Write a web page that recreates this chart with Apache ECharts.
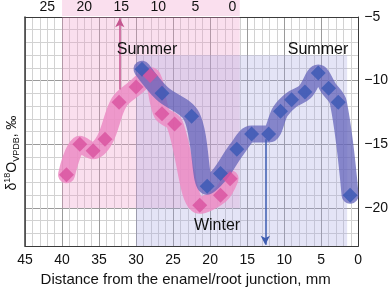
<!DOCTYPE html>
<html>
<head>
<meta charset="utf-8">
<script src="https://cdn.jsdelivr.net/npm/echarts@6/dist/echarts.min.js"></script>
<style>html, body { margin: 0; padding: 0; background: #fff } #chart { width: 391px; height: 292px }</style>
</head>
<body>
<div id="chart"></div>
<script>
// pink profile (first tooth) - distance mm, d18O permil
var pinkDist = [39.4, 37.6, 35.8, 34.2, 32.3, 30.0, 28.1, 26.5, 24.8, 21.4, 18.6, 17.3]
var pinkD18O = [-17.4, -15.0, -15.5, -14.6, -11.7, -10.5, -9.6, -12.6, -13.4, -19.8, -19.0, -17.7]
// blue profile (second tooth)
var blueDist = [29.2, 26.5, 22.5, 20.4, 18.6, 16.4, 14.4, 12.1, 10.5, 9.0, 7.2, 5.4, 4.0, 2.7, 1.1]
var blueD18O = [-9.1, -11.0, -12.8, -18.3, -17.3, -15.4, -14.2, -14.2, -12.4, -11.5, -10.9, -9.4, -10.6, -11.7, -19.0]
var bottomTicks = [45, 40, 35, 30, 25, 20, 15, 10, 5, 0]
var topTicks = [25, 20, 15, 10, 5, 0]
var yTicks = [-5, -10, -15, -20]
var topOffset = 17 // top scale zero sits at 17 mm on the bottom scale

var FONT = "Liberation Sans", minor = "#d2d2d2", major = "#9a9a9a", frame = "#3a3a3a"
function pairs(xs, ys) { return xs.map(function(x, i) { return [x, ys[i]] }) }
function minus(v) { return String(v).replace("-", "\u2212") }

var chart = echarts.init(document.getElementById("chart"))
var option = {
	animation: false,
	grid: {left: 25, right: 32, top: 16, bottom: 42},
	xAxis: [
		{type: "value", position: "bottom", inverse: true, min: 0, max: 45, interval: 1,
			axisLine: {onZero: false, lineStyle: {color: frame, width: 1.2}}, axisTick: {show: false},
			axisLabel: {color: "#111", fontFamily: FONT, fontSize: 14, margin: 7, formatter: function(v) { return bottomTicks.indexOf(v) > -1 ? v : "" }},
			splitLine: {show: true, lineStyle: {color: [major, minor, minor, minor, minor], width: 1}},
			name: "Distance from the enamel/root junction, mm", nameLocation: "middle", nameGap: 25,
			nameTextStyle: {color: "#111", fontFamily: FONT, fontSize: 15, padding: [0, 12, 0, 0]}},
		{type: "value", position: "top", inverse: true, min: -topOffset, max: 45 - topOffset, interval: 1,
			axisLine: {onZero: false, lineStyle: {color: frame, width: 1}}, axisTick: {show: false}, splitLine: {show: false},
			axisLabel: {color: "#111", fontFamily: FONT, fontSize: 14, margin: 3, formatter: function(v) { return topTicks.indexOf(v) > -1 ? v : "" }}},
	],
	yAxis: [
		{type: "value", position: "right", min: -23, max: -5, interval: 1,
			axisLine: {onZero: false, lineStyle: {color: frame, width: 1}}, axisTick: {show: false},
			axisLabel: {color: "#111", fontFamily: FONT, fontSize: 14, margin: 6, formatter: function(v) { return yTicks.indexOf(v) > -1 ? minus(v) : "" }},
			splitLine: {show: true, lineStyle: {color: [minor, minor, minor, major, minor], width: 1}}},
		{type: "value", position: "left", min: -23, max: -5, interval: 1,
			axisLine: {show: true, onZero: false, lineStyle: {color: frame, width: 1.5}}, axisTick: {show: false}, axisLabel: {show: false}, splitLine: {show: false}},
	],
	series: [
		{type: "line", data: [], z: 1, silent: true, markArea: {silent: true, data: [
			[{xAxis: 40, yAxis: -5, itemStyle: {color: "rgba(240,150,200,0.3)"}}, {xAxis: 16, yAxis: -20}],
			[{xAxis: 30, yAxis: -8, itemStyle: {color: "rgba(165,165,225,0.3)"}}, {xAxis: 1.5, yAxis: -23}],
		]}},
		{name: "pink band", type: "line", z: 2, smooth: 0.35, symbol: "none", data: pairs(pinkDist, pinkD18O),
			lineStyle: {color: "rgba(236,140,196,0.85)", width: 17, cap: "round", join: "round"}},
		{name: "blue band", type: "line", z: 3, smooth: 0.35, symbol: "none", data: pairs(blueDist, blueD18O),
			lineStyle: {color: "rgba(95,95,185,0.72)", width: 17, cap: "round", join: "round"}},
		{name: "blue", type: "scatter", z: 4, symbol: "diamond", symbolSize: 15, data: pairs(blueDist, blueD18O), itemStyle: {color: "#3a58b4"}},
		{name: "pink", type: "scatter", z: 5, symbol: "diamond", symbolSize: 15, data: pairs(pinkDist, pinkD18O), itemStyle: {color: "#d9519f"}},
		{type: "line", data: [], z: 6, silent: true, markLine: {silent: true, symbol: ["none", "arrow"], symbolSize: [7, 9], label: {show: false}, data: [
			[{coord: [32.2, -10.7], lineStyle: {color: "#c4558f", width: 1.5, type: "solid"}}, {coord: [32.2, -5.1]}],
			[{coord: [12.55, -14.6], lineStyle: {color: "#3d5cb0", width: 1.5, type: "solid"}}, {coord: [12.55, -22.9]}],
		]}},
	],
}
chart.setOption(option)

var x0 = chart.convertToPixel({xAxisIndex: 0}, 40), x1 = chart.convertToPixel({xAxisIndex: 0}, 16)
var text = {fontFamily: FONT, fontSize: 16, fill: "#111", align: "center", verticalAlign: "middle"}
chart.setOption({graphic: [
	{type: "rect", z: -10, silent: true, shape: {x: Math.min(x0, x1), y: 0, width: Math.abs(x1 - x0), height: 16}, style: {fill: "rgba(240,150,200,0.3)"}},
	{type: "text", z: 10, x: 147, y: 50, style: Object.assign({text: "Summer"}, text)},
	{type: "text", z: 10, x: 318, y: 50, style: Object.assign({text: "Summer"}, text)},
	{type: "text", z: 10, x: 217, y: 226, style: Object.assign({text: "Winter"}, text)},
	{type: "text", z: 10, x: 12, y: 153, rotation: Math.PI / 2, style: {
		text: "{a|\u03b4}{sup|18}{a|O}{sub|VPDB}{a|, \u2030}", align: "center", verticalAlign: "middle",
		rich: {
			a: {fontFamily: FONT, fontSize: 14, fill: "#111", lineHeight: 18},
			sup: {fontFamily: FONT, fontSize: 9, fill: "#111", verticalAlign: "top"},
			sub: {fontFamily: FONT, fontSize: 9, fill: "#111", verticalAlign: "bottom"},
		}}},
]})
</script>
</body>
</html>
